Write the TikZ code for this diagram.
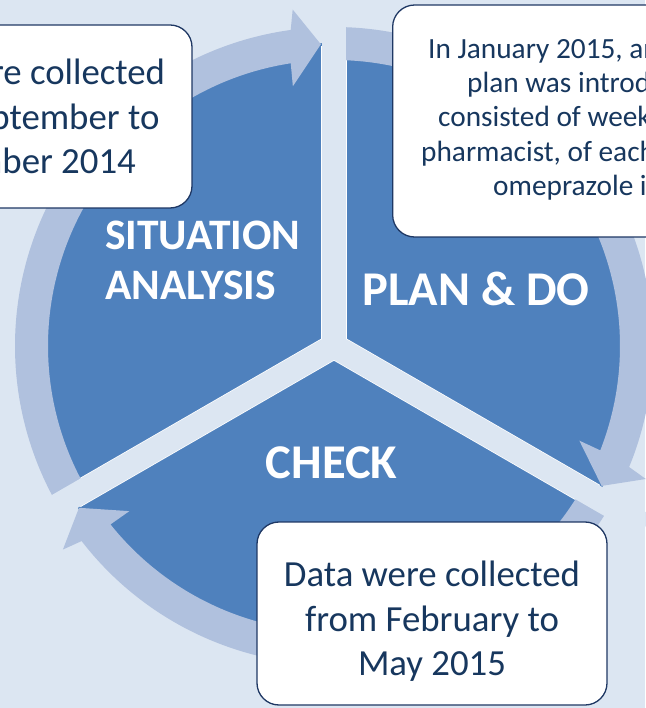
\documentclass[tikz,border=0pt]{standalone}
\usepackage{fontspec}
\setmainfont{Carlito}
\usetikzlibrary{calc}
\definecolor{bgblue}{HTML}{DCE6F2}
\definecolor{ringblue}{HTML}{B0C1DE}
\definecolor{diskblue}{HTML}{4F81BD}
\definecolor{boxnavy}{HTML}{1F3864}
\definecolor{textnavy}{HTML}{17375E}

\begin{document}
\begin{tikzpicture}[x=1pt,y=1pt,
		infobox/.style={draw=boxnavy, line width=1.3pt, fill=white, rounded corners=22pt,
			minimum width=350pt, minimum height=183pt, inner sep=0pt, text=textnavy},
		phase/.style={text=white, inner sep=0pt}]
				\newcommand{\myfontbox}{\fontsize{36.8}{44.5}\selectfont}
				\newcommand{\myfontplan}{\fontsize{29.3}{34.2}\selectfont}
				\newcommand{\myfontsit}{\fontsize{43.5}{50}\selectfont\bfseries}
				\newcommand{\myfontphase}{\fontsize{48.5}{54}\selectfont\bfseries}
				%Background and size of the page
				\useasboundingbox (-334,-362) rectangle (311,346);
				\fill[bgblue] (-334,-362) rectangle (311,346);
				%The disk
				\coordinate (mid) at (0,0);
				\fill[diskblue] (mid) circle (303);
				%White edges of the gaps
				\foreach \g in {90,210,330} {
					\draw[white, line width=25.5pt] (mid) -- (\g:300);
				}
				%Ring of arrows, each from one gap to the next (clockwise)
				\foreach \from/\tip in {210/92.5, 90/-27.6, -30/-147.6} {
					\fill[ringblue] (\from:286) arc[start angle=\from, end angle=\tip+6.2, radius=286]
						-- ({\tip+6.5}:263) -- (\tip:302) -- ({\tip+4.5}:339) -- ({\tip+5.3}:319)
						arc[start angle=\tip+5.3, end angle=\from, radius=319] -- cycle;
				}
				%Gaps between the three parts
				\foreach \g in {90,210,330} {
					\draw[bgblue, line width=24pt] (mid) -- (\g:360);
				}
				%Names of the three parts
				\node[phase, font=\myfontsit, align=left, anchor=west] (sit) at (-229,86) {SITUATION\\ANALYSIS};
				\node[phase, font=\myfontphase] (plan) at (142,57) {PLAN \& DO};
				\node[phase, font=\myfontphase] (check) at (-2.5,-116.5) {CHECK};
				%Box of the situation analysis
				\node[infobox, font=\myfontbox, align=center] (boxA) at (-317,229.5)
					{Data were collected\\from September to\\December 2014};
				%Box of the plan
				\node[infobox, minimum width=330pt, minimum height=232pt, anchor=west] (boxB) at (58,225) {};
				\node[font=\myfontplan, text=textnavy, anchor=base west, inner sep=0pt] (planA) at (94,287) {In January 2015, an};
				\node[font=\myfontplan, text=textnavy, anchor=base west, inner sep=0pt] (planB) at (133,253) {plan was introduced};
				\node[font=\myfontplan, text=textnavy, anchor=base west, inner sep=0pt] (planC) at (104,219) {consisted of weekly};
				\node[font=\myfontplan, text=textnavy, anchor=base west, inner sep=0pt] (planD) at (87,184) {pharmacist, of each};
				\node[font=\myfontplan, text=textnavy, anchor=base west, inner sep=0pt] (planE) at (159,150) {omeprazole indication};
				%Box of the check
				\node[infobox] (boxC) at (98,-267.5) {};
				\node[font=\myfontbox, text=textnavy, align=center, inner sep=0pt] (checkText) at ($(boxC)+(0,-8)$)
					{Data were collected\\from February to\\May 2015};
\end{tikzpicture}
\end{document}
